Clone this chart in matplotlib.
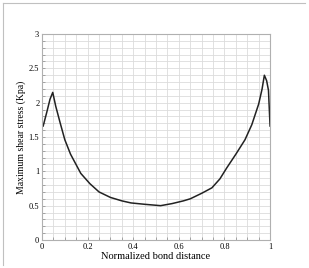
import matplotlib
matplotlib.use("Agg")
import numpy as np
from matplotlib import pyplot as plt
from matplotlib.lines import Line2D
from matplotlib.ticker import MultipleLocator

# values
bond_dist = [0.005, 0.02, 0.035, 0.047, 0.06, 0.08, 0.10, 0.125, 0.17, 0.21,
             0.25, 0.30, 0.35, 0.39, 0.45, 0.52, 0.57, 0.62, 0.65, 0.70,
             0.745, 0.78, 0.81, 0.85, 0.89, 0.92, 0.95, 0.965, 0.975, 0.985,
             0.993, 1.0]
shear_stress = [1.66, 1.85, 2.05, 2.15, 1.95, 1.70, 1.46, 1.25, 0.97, 0.82,
                0.70, 0.62, 0.57, 0.54, 0.52, 0.50, 0.53, 0.57, 0.60, 0.68,
                0.76, 0.89, 1.05, 1.25, 1.46, 1.68, 1.98, 2.20, 2.40, 2.32,
                2.18, 1.66]
x_ticks = [0, 0.2, 0.4, 0.6, 0.8, 1]
x_ticklabels = ["0", "0.2", "0.4", "0.6", "0.8", "1"]
y_ticks = [0, 0.5, 1, 1.5, 2, 2.5, 3]
y_ticklabels = ["0", "0.5", "1", "1.5", "2", "2.5", "3"]

plt.rcParams["font.family"] = "Liberation Serif"

fig = plt.figure(figsize=(3.09, 2.68), dpi=100)
ax = fig.add_axes([0.136, 0.1045, 0.738, 0.7685])

ax.plot(bond_dist, shear_stress, color="#222222", linewidth=1.1)

ax.set_xlim(0, 1)
ax.set_ylim(0, 3)
ax.set_xticks(x_ticks)
ax.set_xticklabels(x_ticklabels)
ax.set_yticks(y_ticks)
ax.set_yticklabels(y_ticklabels)
ax.xaxis.set_minor_locator(MultipleLocator(0.05))
ax.yaxis.set_minor_locator(MultipleLocator(0.1))

ax.grid(which="both", color="#dcdcdc", linewidth=0.6)
ax.set_axisbelow(True)
ax.tick_params(which="both", direction="in", length=2.5, width=0.5,
               color="#888888", labelsize=6, pad=2,
               top=False, right=False)
for s in ax.spines.values():
    s.set_color("#b0b0b0")
    s.set_linewidth(0.8)

ax.set_xlabel("Normalized bond distance", fontsize=7.5, labelpad=1)
ax.set_ylabel("Maximum shear stress (Kpa)", fontsize=7, labelpad=2)

# thin grey frame on top and left edge of the picture
fig.add_artist(Line2D([3, 305], [265.5, 265.5], transform=None,
                      color="#c0c0c0", linewidth=0.8))
fig.add_artist(Line2D([3, 3], [3, 265.5], transform=None,
                      color="#c0c0c0", linewidth=0.8))

fig.savefig("out.png", dpi=100)
